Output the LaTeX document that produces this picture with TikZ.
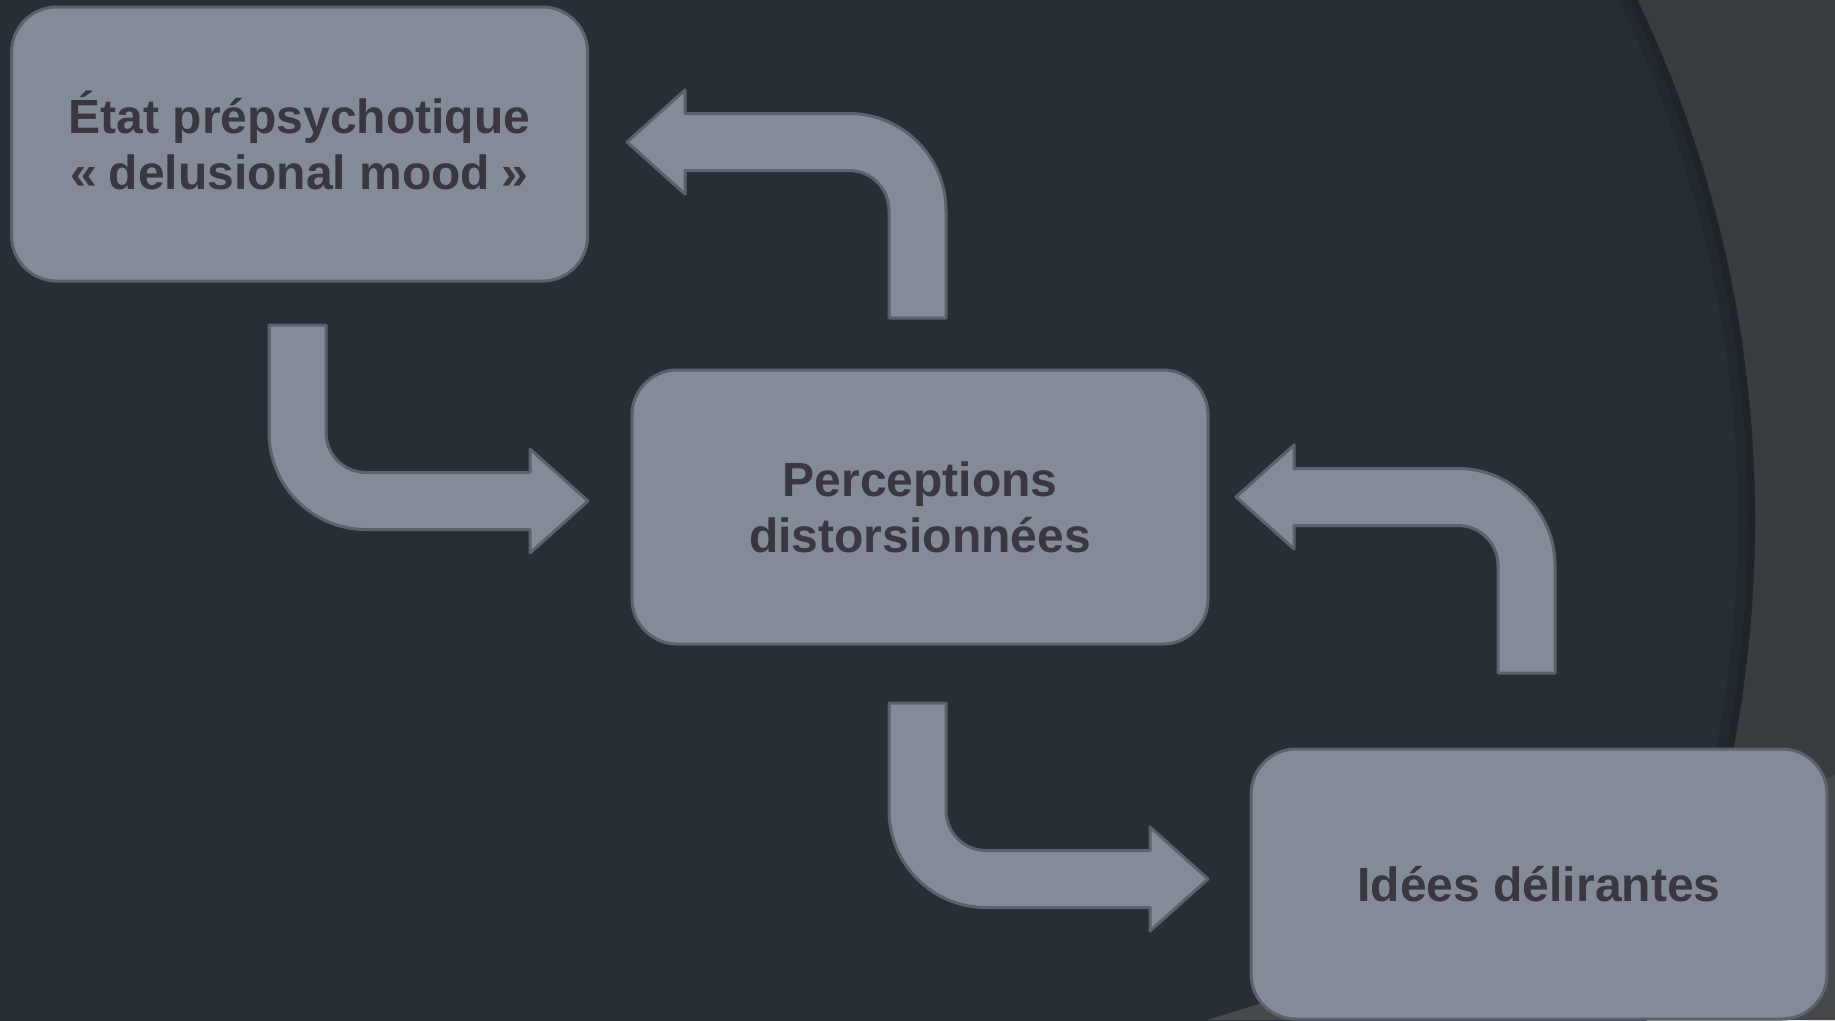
\documentclass[tikz,border=0pt]{standalone}
\usepackage{fontspec}
\setmainfont{Liberation Sans}
\definecolor{darkbg}{HTML}{282E36}
\definecolor{rightbg}{HTML}{383C3F}
\definecolor{bottombg}{HTML}{46494B}
\definecolor{boxfill}{HTML}{838B99}
\definecolor{boxborder}{HTML}{5C626C}
\definecolor{textcol}{HTML}{3A3740}
\tikzset{
  box/.style={draw=boxborder, line width=3pt, fill=boxfill, rounded corners=45pt,
    minimum width=576pt, minimum height=274pt, align=center, text=textcol,
    font=\fontsize{48}{56}\selectfont\bfseries, inner sep=0pt},
  arrowshape/.style={draw=boxborder, line width=3pt, fill=boxfill, line join=round},
  bentarrow/.pic={
    \filldraw[arrowshape] (0,0) -- (-58,-52) -- (-58,-28.5) -- (-222,-28.5)
      .. controls (-244.09,-28.5) and (-262,-46.41) .. (-262,-68.5)
      -- (-262,-176) -- (-319,-176) -- (-319,-68.5)
      .. controls (-319,-14.93) and (-275.57,28.5) .. (-222,28.5)
      -- (-58,28.5) -- (-58,52) -- cycle;
  }
}
\begin{document}
\begin{tikzpicture}[x=1pt,y=-1pt]
\useasboundingbox (0,0) rectangle (1835,1020);
\begin{scope}
\clip (0,0) rectangle (1835,1020);
\fill[rightbg] (0,0) rectangle (1835,1020);
\fill[darkbg] (550,520) circle[radius=1205];
\begin{scope}
\clip (550,520) circle[radius=1205];
\draw[black, opacity=0.10, line width=34pt] (550,520) circle[radius=1205];
\draw[black, opacity=0.12, line width=14pt] (550,520) circle[radius=1205];
\end{scope}
\fill[bottombg] (1207,1020) .. controls (1420,955) and (1640,870) .. (1835,775) -- (1835,1020) -- cycle;
\end{scope}

\coordinate (t1) at (627,142);
\coordinate (t2) at (588,501);
\coordinate (t3) at (1236,497);
\coordinate (t4) at (1208,879);

\pic[rotate=180] at (t1) {bentarrow};
\pic at (t2) {bentarrow};
\pic[rotate=180] at (t3) {bentarrow};
\pic at (t4) {bentarrow};

\node[box] (A) at (299.6,144) {\raisebox{-5pt}[\height][\depth]{\begin{tabular}{@{}c@{}}État prépsychotique\\«\hspace{11.5pt}delusional mood\hspace{11.5pt}»\end{tabular}}};
\node[box] (B) at (920,507) {Perceptions\\distorsionnées};
\node[box, minimum height=270pt] (C) at (1539,884) {Idées délirantes};
\end{tikzpicture}
\end{document}
